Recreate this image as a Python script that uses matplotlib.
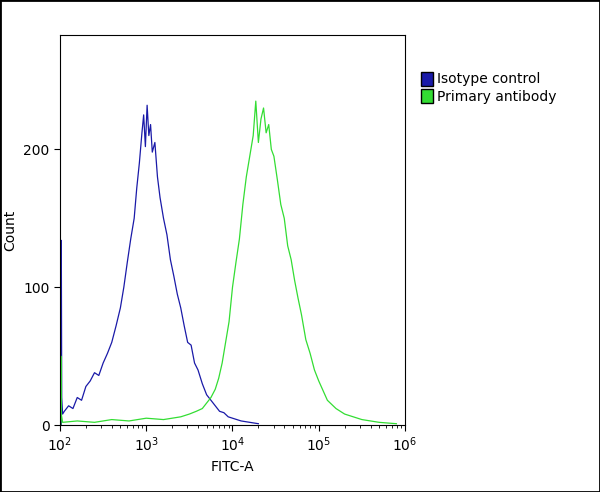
import matplotlib
matplotlib.use('agg')
from matplotlib import pyplot as plt
from matplotlib.patches import Rectangle, Patch

# histogram channels (log10 FITC-A) and counts
iso_x = [2.015, 2.015, 2.02, 2.03, 2.05, 2.10, 2.15, 2.20, 2.25, 2.30, 2.35, 2.40, 2.45, 2.50, 2.55,
         2.60, 2.65, 2.70, 2.74, 2.78, 2.82, 2.86, 2.89, 2.92, 2.95, 2.97, 2.99, 3.01, 3.03,
         3.05, 3.07, 3.10, 3.13, 3.16, 3.20, 3.24, 3.28, 3.32, 3.36, 3.40, 3.44, 3.48, 3.52,
         3.56, 3.60, 3.65, 3.70, 3.75, 3.80, 3.85, 3.90, 3.95, 4.00, 4.10, 4.20, 4.30]
iso_y = [0, 134, 20, 8, 10, 14, 12, 20, 18, 28, 32, 38, 36, 45, 52,
         60, 72, 85, 100, 118, 135, 150, 172, 190, 212, 225, 202, 232, 210,
         218, 198, 205, 180, 165, 150, 138, 120, 108, 95, 85, 72, 60, 58,
         45, 40, 30, 22, 18, 14, 10, 9, 6, 5, 3, 2, 1]

prim_x = [2.01, 2.01, 2.015, 2.03, 2.20, 2.40, 2.60, 2.80, 3.00, 3.20, 3.40, 3.50, 3.58, 3.65,
          3.70, 3.75, 3.80, 3.84, 3.88, 3.92, 3.96, 4.00, 4.04, 4.08, 4.12, 4.16, 4.20,
          4.24, 4.27, 4.30, 4.33, 4.36, 4.39, 4.42, 4.45, 4.48, 4.52, 4.56, 4.60, 4.64,
          4.68, 4.72, 4.76, 4.80, 4.85, 4.90, 4.95, 5.00, 5.05, 5.10, 5.20, 5.30, 5.40,
          5.50, 5.70, 5.90]
prim_y = [0, 50, 8, 2, 3, 2, 4, 3, 5, 4, 6, 8, 10, 12,
          16, 20, 26, 34, 45, 60, 75, 100, 118, 135, 160, 180, 195,
          210, 235, 205, 222, 230, 212, 218, 200, 195, 178, 160, 150, 130,
          120, 105, 92, 80, 62, 52, 40, 32, 25, 18, 12, 8, 6,
          4, 2, 1]

fig = plt.figure(figsize=(6, 4.92), dpi=100)
ax = fig.add_axes([0.1, 0.136, 0.575, 0.793])

ax.plot([10 ** v for v in iso_x], iso_y, color='#1a1aa8', lw=0.9)
ax.plot([10 ** v for v in prim_x], prim_y, color='#33dd33', lw=0.9)

ax.set_xscale('log')
ax.set_xlim(100, 1e6)
ax.set_ylim(0, 283)
ax.set_yticks([0, 100, 200])
ax.tick_params(labelsize=10, length=4)
ax.tick_params(axis='x', which='minor', length=2)
ax.set_xlabel('FITC-A', fontsize=10)
ax.set_ylabel('Count', fontsize=10)
for s in ax.spines.values():
    s.set_linewidth(0.8)

handles = [Patch(facecolor='#1a1aa8', edgecolor='black', label='Isotype control'),
           Patch(facecolor='#33dd33', edgecolor='black', label='Primary antibody')]
fig.legend(handles=handles, loc='upper left', bbox_to_anchor=(0.68, 0.88),
           frameon=False, fontsize=10, handlelength=0.9, handleheight=1.2,
           handletextpad=0.3, labelspacing=0.2)

fig.patches.append(Rectangle((0, 0), 1, 1, transform=fig.transFigure,
                             fill=False, edgecolor='black', lw=2))

plt.savefig('out.png', dpi=100)
